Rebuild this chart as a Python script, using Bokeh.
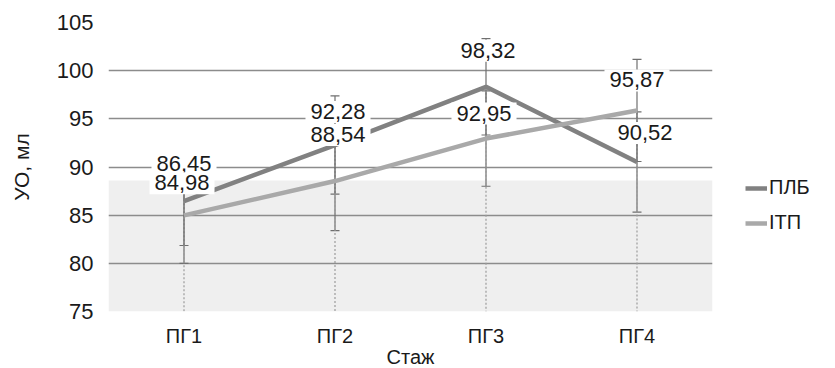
from bokeh.plotting import figure
from bokeh.models import (ColumnDataSource, Range1d, FactorRange, Whisker, TeeHead,
                          Legend, LegendItem, BoxAnnotation, FixedTicker)
from bokeh.core.properties import value
from bokeh.embed import file_html
from bokeh.resources import INLINE

# ---------------- data ----------------
categories = ["ПГ1", "ПГ2", "ПГ3", "ПГ4"]
series_names = ["ПЛБ", "ІТП"]
plb = [86.45, 92.28, 98.32, 90.52]
itp = [84.98, 88.54, 92.95, 95.87]
plb_err = [4.60, 5.10, 5.00, 5.20]
itp_err = [4.98, 5.14, 4.95, 5.30]
y_ticks = [75, 80, 85, 90, 95, 100, 105]
band_low = 75
band_high = 88.6
x_title = "Стаж"
y_title = "УО, мл"

# ---------------- styles ----------------
FONT = "Liberation Sans"
C_PLB = "#818181"
C_ITP = "#a9a9a9"
C_ERR = "#6f6f6f"
C_GRID = "#8c8c8c"
C_TEXT = "#1a1a1a"
plb_dx = [0, 3, 2, 8]
plb_dy = [-37, -33, -36, -29]
itp_dx = [-2, 3, -2, 0]
itp_dy = [-32, -46, -25, -30]


def fmt(v):
    return f"{v:.2f}".replace(".", ",")


p = figure(x_range=FactorRange(*categories), y_range=Range1d(75, 105),
           frame_width=604, frame_height=289,
           min_border_left=108, min_border_top=22, min_border_bottom=56,
           min_border_right=112,
           output_backend="svg", toolbar_location=None)
p.outline_line_color = None
p.background_fill_color = "white"
p.border_fill_color = "white"

# shaded zone (below grid)
p.add_layout(BoxAnnotation(bottom=band_low, top=band_high, fill_color="#efefef",
                           fill_alpha=1.0, line_color=None, level="image"))

# grid
p.xgrid.grid_line_color = None
p.ygrid.grid_line_color = C_GRID
p.ygrid.grid_line_width = 1.5
p.yaxis.ticker = FixedTicker(ticks=y_ticks)

# axes
for ax in (p.xaxis, p.yaxis):
    ax.axis_line_color = None
    ax.major_tick_line_color = None
    ax.minor_tick_line_color = None
    ax.major_tick_out = 0
    ax.major_tick_in = 0
    ax.minor_tick_out = 0
    ax.major_label_text_font = FONT
    ax.major_label_text_color = C_TEXT
    ax.axis_label_text_font = FONT
    ax.axis_label_text_font_style = "normal"
    ax.axis_label_text_color = C_TEXT
p.yaxis.major_label_text_font_size = "22px"
p.yaxis.major_label_standoff = 15
p.yaxis.axis_label = y_title
p.yaxis.axis_label_text_font_size = "21px"
p.yaxis.axis_label_standoff = 21
p.xaxis.major_label_text_font_size = "20px"
p.xaxis.major_label_standoff = 13
p.xaxis.axis_label = x_title
p.xaxis.axis_label_text_font_size = "20px"
p.xaxis.axis_label_standoff = -4

# drop lines (from highest point to the axis)
tops = [max(a, b) for a, b in zip(plb, itp)]
p.segment(x0=categories, y0=tops, x1=categories, y1=[75] * len(categories),
          line_color="#9a9a9a", line_width=1.2, line_dash="2 2")

# error bars
src_plb = ColumnDataSource(dict(x=categories, y=plb,
                                lo=[v - e for v, e in zip(plb, plb_err)],
                                hi=[v + e for v, e in zip(plb, plb_err)],
                                lab=[fmt(v) for v in plb], dx=plb_dx, dy=plb_dy))
src_itp = ColumnDataSource(dict(x=categories, y=itp,
                                lo=[v - e for v, e in zip(itp, itp_err)],
                                hi=[v + e for v, e in zip(itp, itp_err)],
                                lab=[fmt(v) for v in itp], dx=itp_dx, dy=itp_dy))
for src in (src_plb, src_itp):
    w = Whisker(source=src, base="x", upper="hi", lower="lo", dimension="height",
                line_color=C_ERR, line_width=1.2,
                upper_head=TeeHead(size=9, line_color=C_ERR, line_width=1.2),
                lower_head=TeeHead(size=9, line_color=C_ERR, line_width=1.2))
    p.add_layout(w)

# series lines
r_plb = p.line("x", "y", source=src_plb, line_color=C_PLB, line_width=4.5)
r_itp = p.line("x", "y", source=src_itp, line_color=C_ITP, line_width=4.5)

# data labels (white boxes on top of the lines)
for src in (src_plb, src_itp):
    p.text(x="x", y="y", text="lab", source=src, x_offset="dx", y_offset="dy",
           text_align="center", text_baseline="middle",
           text_font=value(FONT), text_font_size="22px", text_color=C_TEXT,
           background_fill_color="white",
           padding=dict(left=5, right=5, top=3, bottom=4))

# legend
legend = Legend(items=[LegendItem(label=series_names[0], renderers=[r_plb]),
                       LegendItem(label=series_names[1], renderers=[r_itp])],
                location=(33, 77), orientation="vertical",
                border_line_color=None, background_fill_alpha=0,
                label_text_font=FONT, label_text_font_size="20px",
                label_text_color=C_TEXT, glyph_width=22, glyph_height=20,
                label_height=20, spacing=12, padding=0, margin=0,
                label_standoff=2)
p.add_layout(legend, "right")

open("out.html", "w").write(file_html(p, INLINE))
